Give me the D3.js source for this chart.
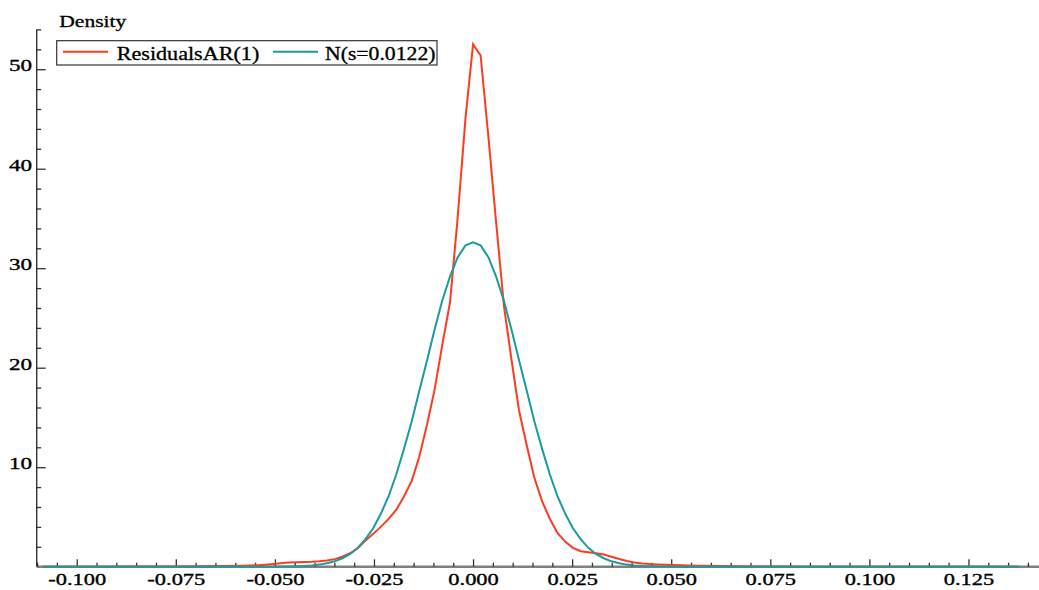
<!DOCTYPE html>
<html><head><meta charset="utf-8">
<script src="https://cdn.jsdelivr.net/npm/d3@7"></script>
<style>body{margin:0;background:#fff} svg{display:block}</style>
</head><body><svg id="c" width="1039" height="590"></svg>
<script>
const xGrid = [-0.1086,-0.0970,-0.0873,-0.0776,-0.0679,-0.0582,-0.0543,-0.0524,-0.0504,-0.0485,-0.0466,-0.0446,-0.0427,-0.0407,-0.0388,-0.0369,-0.0349,-0.0330,-0.0310,-0.0291,-0.0272,-0.0252,-0.0233,-0.0213,-0.0194,-0.0175,-0.0155,-0.0136,-0.0116,-0.0097,-0.0078,-0.0058,-0.0039,-0.0019,0,
0.0019,0.0039,0.0058,0.0078,0.0097,0.0116,0.0136,0.0155,0.0175,0.0194,0.0213,0.0233,0.0252,0.0272,0.0291,0.0310,0.0330,0.0349,0.0369,0.0388,0.0407,0.0427,0.0446,0.0466,0.0485,0.0504,0.0524,0.0543,0.0563,0.0582,0.0621,0.0660,0.0718,0.0776,0.0873,0.0970,0.1164,0.1377];

const residualsAR1 = [0,0,0.01,0.03,0.05,0.1,0.15,0.2,0.27,0.35,0.42,0.45,0.47,0.5,0.55,0.63,0.76,1.0,1.35,1.85,2.6,3.3,4.0,4.8,5.7,7.0,8.6,11.0,14.3,17.8,22.2,26.6,35.0,45.1,
52.5,
51.4,43.1,34.7,26.2,20.8,15.7,12.1,8.9,6.5,4.8,3.4,2.5,1.9,1.55,1.45,1.35,1.22,1.0,0.77,0.57,0.42,0.32,0.26,0.22,0.19,0.17,0.15,0.12,0.1,0.1,
0.08,0.05,0.03,0.01,0,0,0,0];

const normalFit = [0,0,0,0,0,0,0,0,0,0.01,0.02,0.04,0.07,0.12,0.21,0.34,0.54,0.85,1.28,1.9,2.74,3.86,5.29,7.08,9.24,11.74,14.56,17.6,20.74,23.84,26.71,29.18,31.09,32.29,
32.6,
32.29,31.09,29.18,26.71,23.84,20.74,17.6,14.56,11.74,9.24,7.08,5.29,3.86,2.74,1.9,1.28,0.85,0.54,0.34,0.21,0.12,0.07,0.04,0.02,0.01,0,0,0,0,0,
0,0,0,0,0,0,0,0];

const xTickValues = [-0.100,-0.075,-0.050,-0.025,0.000,0.025,0.050,0.075,0.100,0.125];
const xTickLabels = ["-0.100","-0.075","-0.050","-0.025","0.000","0.025","0.050","0.075","0.100","0.125"];
const yTickValues = [10,20,30,40,50];
const yTickLabels = ["10","20","30","40","50"];
const seriesNames = ["ResidualsAR(1)","N(s=0.0122)"];
const seriesColors = ["#ff3b1f","#1b9b9b"];
const yAxisTitle = "Density";

const svg = d3.select("#c");
const FONT = "Liberation Serif, Times New Roman, serif";
const x = d3.scaleLinear().domain([-0.1101, 0.1428]).range([36.7, 1039]);
const y = d3.scaleLinear().domain([0, 54]).range([566.7, 29.4]);

// x axis baseline (gray)
svg.append("line").attr("x1", x.range()[0]).attr("x2", x.range()[1])
  .attr("y1", y(0)).attr("y2", y(0)).attr("stroke", "#808080").attr("stroke-width", 2.6);

// x minor ticks
const xMinor = d3.range(-22, 29).map(i => +(i * 0.005).toFixed(3)).filter(v => Math.abs(v*40 - Math.round(v*40)) > 1e-6);
const gxm = svg.append("g").attr("transform", `translate(0,${y(0)})`)
  .call(d3.axisBottom(x).tickValues(xMinor).tickFormat("").tickSize(-4).tickSizeOuter(0));
gxm.select(".domain").remove();
gxm.selectAll("line").attr("stroke", "#333").attr("stroke-width", 1.3);

// x major ticks
const gx = svg.append("g").attr("transform", `translate(0,${y(0)})`)
  .call(d3.axisBottom(x).tickValues(xTickValues).tickFormat((d, i) => xTickLabels[i]).tickSize(-7.4).tickSizeOuter(0));
gx.select(".domain").remove();
gx.selectAll("line").attr("stroke", "#333").attr("stroke-width", 1.3);
gx.selectAll("text").attr("y", 18.8).attr("dy", null)
  .attr("font-family", FONT).attr("font-size", 17).attr("fill", "#000")
  .attr("stroke", "#000").attr("stroke-width", 0.35)
  .attr("transform", "scale(1.32,1)");

// y axis
svg.append("line").attr("x1", 36.7).attr("x2", 36.7).attr("y1", y(54)).attr("y2", y(0))
  .attr("stroke", "#333").attr("stroke-width", 1.4);
const yMinor = d3.range(2, 55, 2).filter(v => v % 10 !== 0);
const gym = svg.append("g").attr("transform", "translate(36.7,0)")
  .call(d3.axisLeft(y).tickValues(yMinor).tickFormat("").tickSize(-4.5).tickSizeOuter(0));
gym.select(".domain").remove();
gym.selectAll("line").attr("stroke", "#333").attr("stroke-width", 1.3);
const gy = svg.append("g").attr("transform", "translate(36.7,0)")
  .call(d3.axisLeft(y).tickValues(yTickValues).tickFormat((d, i) => yTickLabels[i]).tickSize(-9).tickSizeOuter(0));
gy.select(".domain").remove();
gy.selectAll("line").attr("stroke", "#333").attr("stroke-width", 1.3);
gy.selectAll("text").attr("x", 0).attr("dy", null).attr("y", 1.3)
  .attr("text-anchor", "end")
  .attr("font-family", FONT).attr("font-size", 17).attr("fill", "#000")
  .attr("stroke", "#000").attr("stroke-width", 0.35)
  .attr("transform", "translate(-4.6,0) scale(1.36,1)");

// y title
svg.append("text").attr("x", 59.3).attr("y", 26.7).text(yAxisTitle)
  .attr("font-family", FONT).attr("font-size", 17.5).attr("fill", "#000")
  .attr("stroke", "#000").attr("stroke-width", 0.3)
  .attr("textLength", 67).attr("lengthAdjust", "spacingAndGlyphs");

// curves
const line = d3.line().x((d, i) => x(xGrid[i])).y(d => y(d));
[residualsAR1, normalFit].forEach((s, i) => {
  svg.append("path").attr("d", line(s)).attr("fill", "none")
    .attr("stroke", seriesColors[i]).attr("stroke-width", 2);
});

// legend
const lg = svg.append("g");
lg.append("rect").attr("x", 56.7).attr("y", 40.7).attr("width", 380.3).attr("height", 24.3)
  .attr("fill", "#fff").attr("stroke", "#333").attr("stroke-width", 1.2);
const legendItems = [
  {lx1: 63, lx2: 108, tx: 116.7, tw: 142.6},
  {lx1: 273, lx2: 318, tx: 325, tw: 110.5}
];
legendItems.forEach((it, i) => {
  lg.append("line").attr("x1", it.lx1).attr("x2", it.lx2).attr("y1", 51.7).attr("y2", 51.7)
    .attr("stroke", seriesColors[i]).attr("stroke-width", 2);
  lg.append("text").attr("x", it.tx).attr("y", 59.8).text(seriesNames[i])
    .attr("font-family", FONT).attr("font-size", 18).attr("fill", "#000")
    .attr("stroke", "#000").attr("stroke-width", 0.3)
    .attr("textLength", it.tw).attr("lengthAdjust", "spacingAndGlyphs");
});
</script></body></html>
